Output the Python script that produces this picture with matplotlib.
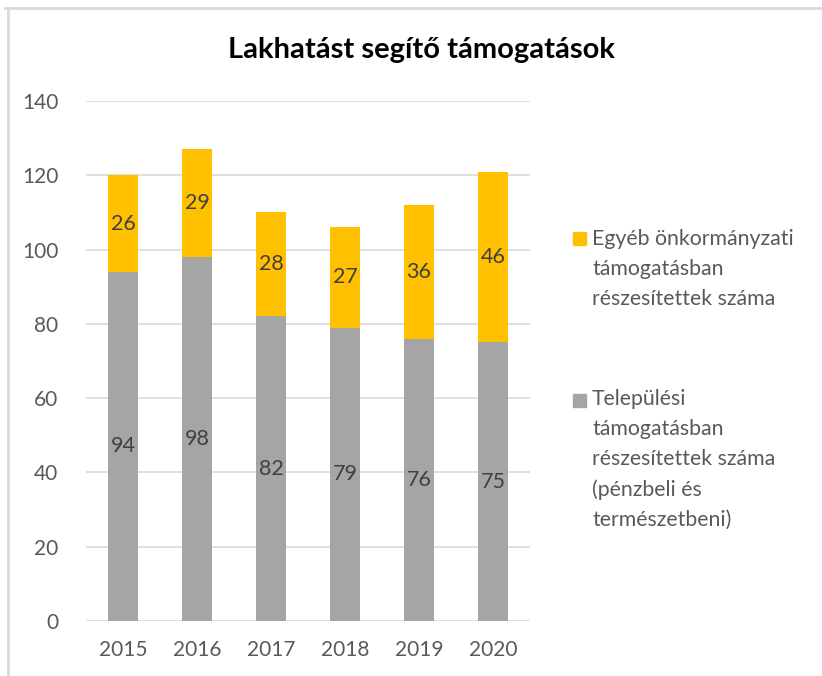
import matplotlib
matplotlib.use("Agg")
import matplotlib.pyplot as plt
from matplotlib.patches import Rectangle
from matplotlib.lines import Line2D

years = ["2015", "2016", "2017", "2018", "2019", "2020"]
telepulesi = [94, 98, 82, 79, 76, 75]
egyeb = [26, 29, 28, 27, 36, 46]
yticks = [0, 20, 40, 60, 80, 100, 120, 140]
title = "Lakhatást segítő támogatások"
label_egyeb = "Egyéb önkormányzati\ntámogatásban\nrészesítettek száma"
label_telep = "Települési\ntámogatásban\nrészesítettek száma\n(pénzbeli és\ntermészetbeni)"

GRAY = "#A5A5A5"
GOLD = "#FFC000"
TXT = "#595959"
FONT = ["Lato", "DejaVu Sans"]
plt.rcParams["font.family"] = FONT

W, H = 822, 676
fig = plt.figure(figsize=(W / 100, H / 100), dpi=100)
ax = fig.add_axes([86 / W, 1 - 621 / H, (530 - 86) / W, (621 - 101) / H])

x = list(range(len(years)))
bw = 0.4
b1 = ax.bar(x, telepulesi, width=bw, color=GRAY, zorder=3)
b2 = ax.bar(x, egyeb, width=bw, bottom=telepulesi, color=GOLD, zorder=3)
ax.bar_label(b1, labels=[str(v) for v in telepulesi], label_type="center",
             color="#404040", fontsize=15.5)
ax.bar_label(b2, labels=[str(v) for v in egyeb], label_type="center",
             color="#404040", fontsize=15.5)

ax.set_xlim(-0.5, len(years) - 0.5)
ax.set_ylim(0, 140)
ax.set_yticks(yticks)
ax.set_xticks(x)
ax.set_xticklabels(years)
ax.tick_params(axis="both", length=0, labelsize=15, colors=TXT)
ax.tick_params(axis="y", pad=20)
ax.tick_params(axis="x", pad=14)
ax.yaxis.grid(True, color="#D9D9D9", linewidth=1.2, zorder=0)
for s in ax.spines.values():
    s.set_visible(False)
ax.set_axisbelow(True)

fig.text(421 / W, 1 - 50 / H, title, ha="center", va="center",
         fontsize=21, fontweight="bold", color="#000000")

# legend
fig.patches.append(Rectangle((573 / W, 1 - 245 / H), 13 / W, 13 / H,
                             transform=fig.transFigure, color=GOLD))
fig.text(592 / W, 1 - 229 / H, label_egyeb, ha="left", va="top",
         fontsize=15.3, color=TXT, linespacing=1.62)
fig.patches.append(Rectangle((573 / W, 1 - 407 / H), 13 / W, 13 / H,
                             transform=fig.transFigure, color=GRAY))
fig.text(592 / W, 1 - 389 / H, label_telep, ha="left", va="top",
         fontsize=15.3, color=TXT, linespacing=1.62)

# frame lines (top and left)
fig.lines.append(Line2D([5 / W, 1], [1 - 8 / H, 1 - 8 / H],
                        transform=fig.transFigure, color="#D9D9D9", linewidth=2))
fig.lines.append(Line2D([8 / W, 8 / W], [0, 1 - 8 / H],
                        transform=fig.transFigure, color="#D9D9D9", linewidth=2))

fig.savefig("out.png", dpi=100)
